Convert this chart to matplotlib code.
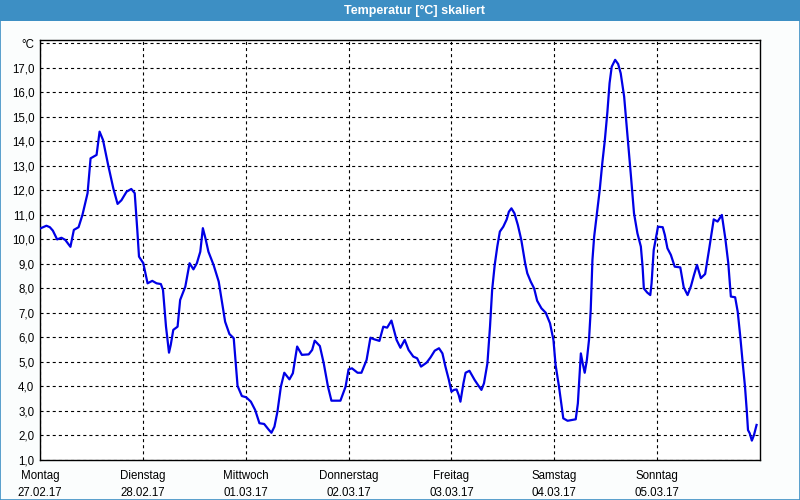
import matplotlib
matplotlib.use("Agg")
import matplotlib.pyplot as plt
from matplotlib.patches import Rectangle

# hours since Monday 27.02.17 00:00
hours = [0.2, 1.5, 2.3, 3.0, 4.0, 5.0, 5.9, 7.1, 7.9, 9.0, 9.9, 11.1, 11.8, 13.2, 13.9,
         14.7, 15.9, 17.1, 18.1, 19.0, 20.2, 21.3, 22.1, 22.7, 23.1, 24.1, 25.1, 26.2,
         27.2, 28.2, 28.7, 29.4, 30.1, 30.5, 31.1, 32.1, 32.7, 33.9, 34.9, 35.8, 36.6,
         37.4, 38.0, 38.6, 39.3, 40.5, 41.7, 42.5, 43.2, 44.2, 45.2, 45.6, 46.1, 47.1,
         48.1, 49.2, 50.2, 51.2, 52.3, 53.3, 54.0, 54.7, 55.4, 56.2, 57.0, 58.2, 59.0,
         60.0, 61.1, 62.7, 63.5, 64.1, 65.3, 66.2, 67.2, 68.0, 70.1, 71.3, 72.0, 72.8,
         74.1, 75.0, 76.2, 77.1, 77.9, 79.2, 80.1, 81.0, 82.0, 83.2, 84.1, 85.1, 86.0,
         87.1, 88.0, 88.9, 90.2, 91.1, 92.1, 93.1, 93.9, 94.6, 95.4, 96.0, 96.6, 97.2,
         97.7, 98.1, 98.8, 99.3, 100.2, 101.4, 102.2, 103.0, 103.6, 104.4, 105.0, 105.5,
         106.1, 106.7, 107.3, 108.1, 108.9, 109.4, 110.0, 110.7, 111.5, 112.3, 113.2,
         113.7, 114.5, 115.3, 116.0, 117.0, 118.0, 119.0, 119.8, 120.3, 121.1, 122.1,
         123.1, 125.0, 125.5, 126.2, 126.6, 127.1, 127.6, 128.1, 128.5, 128.9, 129.3,
         129.9, 130.6, 131.2, 131.8, 132.4, 132.9, 133.4, 134.2, 134.9, 135.5, 136.3,
         137.1, 137.9, 138.6, 139.4, 140.2, 140.6, 140.9, 141.7, 142.4, 142.7, 143.2,
         143.7, 144.2, 145.3, 145.8, 146.4, 147.2, 148.1, 149.4, 150.2, 151.1, 151.9,
         152.6, 153.3, 154.2, 155.2, 156.1, 157.2, 158.1, 159.1, 159.9, 160.6, 161.2,
         162.2, 162.8, 163.4, 163.9, 164.5, 164.9, 165.2, 165.6, 166.1, 166.6, 167.2]

temps = [10.46, 10.56, 10.5, 10.36, 10.0, 10.07, 9.98, 9.7, 10.39, 10.5, 11.0, 11.89,
         13.31, 13.45, 14.4, 14.06, 13.04, 12.09, 11.45, 11.6, 11.95, 12.06, 11.89, 10.39,
         9.3, 9.03, 8.21, 8.31, 8.21, 8.18, 7.94, 6.44, 5.38, 5.69, 6.31, 6.44, 7.53, 8.07,
         9.03, 8.78, 9.03, 9.5, 10.46, 10.05, 9.5, 8.96, 8.28, 7.4, 6.64, 6.14, 5.97, 5.08,
         4.02, 3.61, 3.56, 3.38, 3.04, 2.5, 2.47, 2.25, 2.11, 2.36, 2.97, 3.99, 4.56, 4.29,
         4.54, 5.63, 5.29, 5.31, 5.49, 5.87, 5.65, 4.95, 3.99, 3.42, 3.42, 3.99, 4.7, 4.74,
         4.56, 4.56, 5.08, 5.99, 5.93, 5.86, 6.44, 6.4, 6.69, 5.9, 5.58, 5.9, 5.49, 5.22,
         5.15, 4.81, 4.97, 5.18, 5.46, 5.56, 5.35, 4.81, 4.27, 3.79, 3.86, 3.88, 3.65, 3.38,
         4.13, 4.56, 4.64, 4.27, 4.06, 3.86, 4.13, 4.95, 6.44, 7.94, 8.96, 9.71, 10.32,
         10.52, 10.82, 11.13, 11.27, 11.07, 10.59, 9.98, 9.03, 8.62, 8.28, 8.0, 7.5, 7.19,
         7.01, 6.58, 5.9, 4.88, 3.99, 2.7, 2.6, 2.66, 3.31, 5.35, 4.97, 4.56, 5.08, 5.9,
         7.12, 9.16, 10.11, 11.0, 12.02, 13.11, 14.06, 15.22, 16.38, 17.05, 17.33, 17.16,
         16.78, 15.83, 14.2, 12.56, 11.07, 10.25, 9.71, 8.89, 8.0, 7.83, 7.73, 8.21, 9.57,
         10.05, 10.52, 10.5, 10.18, 9.64, 9.37, 8.89, 8.86, 8.05, 7.73, 8.1, 8.55, 8.96,
         8.42, 8.59, 9.57, 10.82, 10.73, 11.0, 10.05, 9.03, 7.67, 7.64, 7.05, 6.03, 5.08,
         3.99, 3.04, 2.22, 2.09, 1.79, 2.02, 2.43]

day_names = ["Montag", "Dienstag", "Mittwoch", "Donnerstag", "Freitag", "Samstag", "Sonntag"]
day_dates = ["27.02.17", "28.02.17", "01.03.17", "02.03.17", "03.03.17", "04.03.17", "05.03.17"]
y_ticks = list(range(1, 19))

plt.rcParams['font.family'] = ['Liberation Sans', 'DejaVu Sans']
plt.rcParams['lines.scale_dashes'] = False

fig = plt.figure(figsize=(8, 5), dpi=100)
fig.patch.set_facecolor('#fbfdfd')

# title bar and window border
bar_color = '#3d8fc4'
fig.patches.append(Rectangle((0, 0.958), 1, 0.042, transform=fig.transFigure,
                             facecolor=bar_color, edgecolor='none', zorder=0))
fig.patches.append(Rectangle((0.0006, 0.001), 0.9988, 0.99, transform=fig.transFigure,
                             facecolor='none', edgecolor=bar_color, linewidth=1.2, zorder=0))
fig.text(0.518, 0.979, "Temperatur [°C] skaliert", color='white', fontsize=9,
         fontweight='bold', ha='center', va='center')

ax = fig.add_axes([0.05, 0.08, 0.9, 0.84])
ax.set_facecolor('white')
ax.plot(hours, temps, color='#0000e6', linewidth=1.6, zorder=3)

ax.set_xlim(0, 168)
ax.set_ylim(0.999, 18.14)
ax.set_xticks([24 * i for i in range(7)])
ax.set_xticklabels([n + "\n" + d for n, d in zip(day_names, day_dates)], linespacing=1.55)
ax.set_yticks(y_ticks)
ax.set_yticklabels([f"{v},0" for v in y_ticks[:-1]] + ["°C"])

ax.tick_params(axis='both', length=0, labelsize=8.3, colors='black')
ax.tick_params(axis='x', pad=7)
ax.tick_params(axis='y', pad=4)
ax.grid(True, color='black', linestyle=(0, (2.2, 2.2)), linewidth=0.8)
for s in ax.spines.values():
    s.set_color('black')
    s.set_linewidth(1.0)

fig.savefig('out.png', dpi=100, facecolor=fig.get_facecolor())
